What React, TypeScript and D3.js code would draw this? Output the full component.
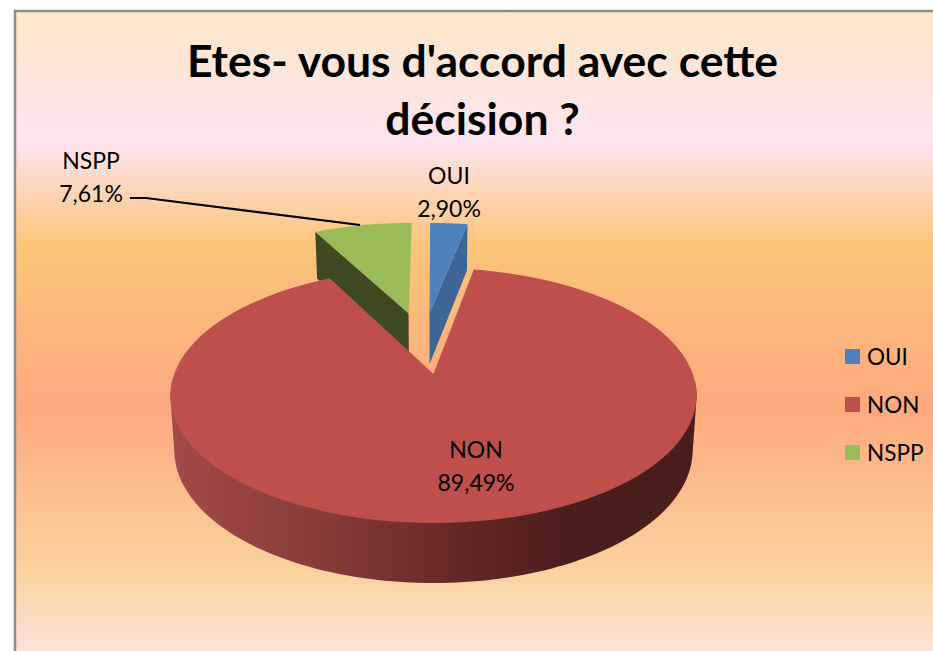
import React from 'react';
import * as d3 from 'd3';

const categories = ['OUI', 'NON', 'NSPP'];
const shares = [2.9, 89.49, 7.61];
const shareLabels = ['2,90%', '89,49%', '7,61%'];
const colours = ['#4f81bd', '#be4f4d', '#9bbb59'];
const wallColours = ['#3d6696', '#000000', '#3f4a22'];
const titleLines = ["Etes- vous d'accord avec cette", 'décision ?'];

const width = 933;
const height = 651;
const font = 'Lato, "Open Sans", sans-serif';

// the pie is a circle seen in perspective, apex of the big slice at (433,374)
const apex = { x: 433.5, y: 374 };
const persp = -0.1686;
const kx = 259.3;
const ky = 123.9;

// explode offsets in circle units, same order as categories
const offsets: [number, number][] = [
  [-0.0167, -0.535],
  [0, 0],
  [-0.105, -0.535]
];

const project = (x: number, y: number) => {
  const w = 1 + persp * y;
  return [apex.x + (kx * x) / w, apex.y + (ky * y) / w];
};

// same point on the bottom face
const projectDown = (x: number, y: number) => {
  const [px, py] = project(x, y);
  const depth = 53.7 / (1 - 0.105 * y);
  return [apex.x + (px - apex.x) * 0.985, py + depth];
};

const line = d3.line();

const pie = d3.pie<number>().sort(null);
const slices = pie(shares);

const rim = (a0: number, a1: number) => d3.range(0, 121).map(i => a0 + ((a1 - a0) * i) / 120);

const topFace = (i: number) => {
  const s = slices[i];
  const [ox, oy] = offsets[i];
  const pts = rim(s.startAngle, s.endAngle).map(a => project(ox + Math.sin(a), oy - Math.cos(a)));
  return line([project(ox, oy), ...pts] as [number, number][]) + 'Z';
};

// outer wall of the big slice: only the front half shows, hull gives the silhouette
const frontWall = (i: number) => {
  const [ox, oy] = offsets[i];
  const angles = rim(Math.PI * 0.52, Math.PI * 1.48);
  const up = angles.map(a => project(ox + Math.sin(a), oy - Math.cos(a)));
  const down = angles.map(a => projectDown(ox + Math.sin(a), oy - Math.cos(a)));
  return line(d3.polygonHull([...up, ...down] as [number, number][])!) + 'Z';
};

// radial cut wall of an exploded slice
const cutWall = (i: number, a: number) => {
  const [ox, oy] = offsets[i];
  const x = ox + Math.sin(a);
  const y = oy - Math.cos(a);
  return line([project(ox, oy), project(x, y), projectDown(x, y), projectDown(ox, oy)] as [number, number][]) + 'Z';
};

const bgStops: [number, string][] = [
  [0, '#fbe8c8'],
  [0.2, '#fee4f0'],
  [0.36, '#fbc579'],
  [0.61, '#fda97f'],
  [0.86, '#fbd39e'],
  [1, '#fee3e3']
];

const wallStops: [number, string][] = [
  [0, '#a44a48'],
  [0.3, '#873b39'],
  [0.55, '#652826'],
  [0.75, '#4b1e1d'],
  [1, '#4a1e1d']
];

const legendY = d3.scalePoint<string>().domain(categories).range([357, 453]);

export default function App() {
  return (
    <svg width={width} height={height} style={{ position: 'fixed', left: 0, top: 0 }}>
      <defs>
        <linearGradient id="bg" x1="0" y1="0" x2="0" y2="1">
          {bgStops.map(([o, c]) => (
            <stop key={o} offset={o} stopColor={c} />
          ))}
        </linearGradient>
        <linearGradient id="wall" gradientUnits="userSpaceOnUse" x1="170" y1="0" x2="697" y2="0">
          {wallStops.map(([o, c]) => (
            <stop key={o} offset={o} stopColor={c} />
          ))}
        </linearGradient>
      </defs>
      <rect x={15} y={11} width={width} height={height} fill="url(#bg)" stroke="#8c8c8c" strokeWidth={2.5} />

      <g fontFamily={font} fontWeight="bold" fontSize={44.5} textAnchor="middle" fill="#000">
        {titleLines.map((t, i) => (
          <text key={t} x={482.5} y={77 + i * 58}>
            {t}
          </text>
        ))}
      </g>

      <path d={cutWall(0, slices[0].endAngle)} fill={wallColours[0]} />
      <path d={topFace(0)} fill={colours[0]} />
      <path d={cutWall(2, slices[2].startAngle)} fill={wallColours[2]} />
      <path d={topFace(2)} fill={colours[2]} />
      <path d={frontWall(1)} fill="url(#wall)" />
      <path d={topFace(1)} fill={colours[1]} />

      <path d={line([[130, 198], [146, 198], [360, 225]])!} fill="none" stroke="#000" strokeWidth={2} />

      <g fontFamily={font} fontSize={23} textAnchor="middle" fill="#000">
        <text x={449} y={184}>{categories[0]}</text>
        <text x={449} y={217}>{shareLabels[0]}</text>
        <text x={476} y={458}>{categories[1]}</text>
        <text x={476} y={491}>{shareLabels[1]}</text>
        <text x={91} y={169}>{categories[2]}</text>
        <text x={91} y={202}>{shareLabels[2]}</text>
      </g>

      {categories.map((c, i) => (
        <g key={c}>
          <rect x={845} y={legendY(c)! - 8} width={15} height={15} fill={colours[i]} />
          <text x={867} y={legendY(c)! + 8} fontFamily={font} fontSize={22.5} fill="#000">
            {c}
          </text>
        </g>
      ))}
    </svg>
  );
}
